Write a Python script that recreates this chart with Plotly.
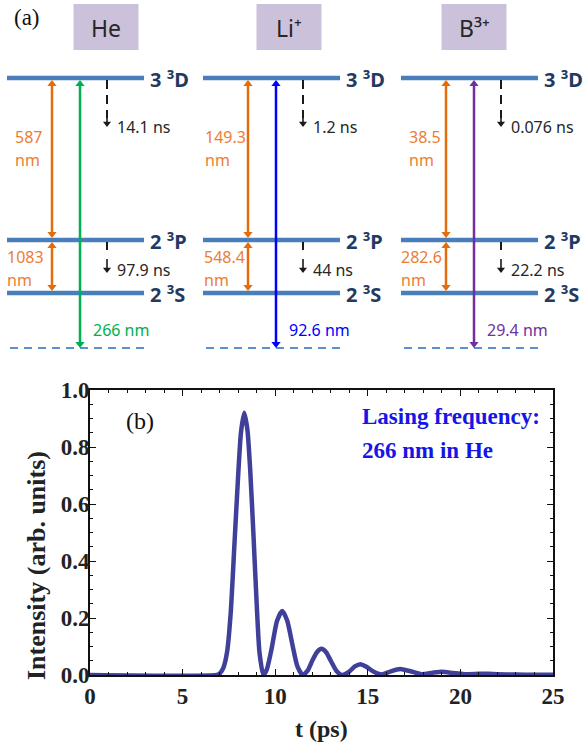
import plotly.graph_objects as go

# ---------------- panel (a) data ----------------
species = ["He", "Li\u207a", "B\u00b3\u207a"]
level_names = ["3 \u00b3D", "2 \u00b3P", "2 \u00b3S"]
wl_DP = ["587", "149.3", "38.5"]          # 3D <-> 2P wavelength (nm)
wl_PS = ["1083", "548.4", "282.6"]        # 2P <-> 2S wavelength (nm)
wl_lasing = ["266 nm", "92.6 nm", "29.4 nm"]
tau_D = ["14.1 ns", "1.2 ns", "0.076 ns"]
tau_P = ["97.9 ns", "44 ns", "22.2 ns"]
lasing_colors = ["#00b050", "#0000ff", "#7030a0"]

# ---------------- panel (b) data ----------------
t_ps = [0, 6.84, 7.0, 7.2, 7.4, 7.6, 7.8, 8.0, 8.15, 8.33, 8.5, 8.65, 8.82, 9.0,
        9.15, 9.36, 9.55, 9.8, 10.1, 10.38, 10.65, 10.95, 11.2, 11.48,
        11.75, 12.0, 12.25, 12.5, 12.75, 13.0, 13.3, 13.6,
        14.0, 14.3, 14.6, 14.9, 15.3, 15.75,
        16.2, 16.75, 17.3, 17.9, 18.5, 19.0, 19.6, 20.2, 21.0, 21.5, 22.5, 23.5, 25]
intensity = [0, 0.0, 0.005, 0.025, 0.08, 0.22, 0.46, 0.70, 0.85, 0.92, 0.86,
             0.72, 0.50, 0.25, 0.08, 0.0, 0.02, 0.09, 0.19, 0.225, 0.19, 0.10,
             0.03, 0.0,
             0.015, 0.05, 0.08, 0.092, 0.08, 0.05, 0.015, 0.0,
             0.012, 0.03, 0.038, 0.03, 0.012, 0.002,
             0.012, 0.021, 0.013, 0.003, 0.008, 0.011, 0.007, 0.003, 0.004,
             0.004, 0.002, 0.001, 0.001]
x_ticks = [0, 5, 10, 15, 20, 25]
y_ticks = [0.0, 0.2, 0.4, 0.6, 0.8, 1.0]
x_range = [0, 25]
y_range = [0, 1]

# ---------------- layout constants (pixels) ----------------
W, H = 583, 746
panel_x0 = [7, 203, 401]
level_len = 137
level_y = [78, 240, 293]
base_y = 348
box_cx = [106, 289, 474]
box_w, box_top, box_bot = 65, 4, 50
dx_orange, dx_lasing, dx_decay = 45, 73, 100
dp_label_x = [13, 203, 407]
ps_label_x = [5, 202, 399]

LEVEL_COLOR = "#4a7ebb"
LABEL_COLOR = "#1f3b63"
ORANGE = "#e46c0a"
ORANGE_TXT = "#ed7d31"
SANS = "Noto Sans"
SERIF = "Liberation Serif"

fig = go.Figure()
ann = []
shapes = []


def add_line(xs, ys, color, width, dash="solid"):
    fig.add_trace(go.Scatter(x=xs, y=ys, mode="lines", xaxis="x2", yaxis="y2",
                             line=dict(color=color, width=width, dash=dash),
                             hoverinfo="skip", showlegend=False))


def add_heads(x, tips, symbols, color, size):
    ys = []
    for tip, sym in zip(tips, symbols):
        ys.append(tip + size / 2 if sym == "triangle-up" else tip - size / 2)
    fig.add_trace(go.Scatter(x=[x] * len(tips), y=ys, mode="markers",
                             xaxis="x2", yaxis="y2",
                             marker=dict(symbol=symbols, size=size, color=color,
                                         line=dict(width=0)),
                             hoverinfo="skip", showlegend=False))


def double_arrow(x, y_top, y_bot, color, width, size):
    add_line([x, x], [y_top + size / 2, y_bot - size / 2], color, width)
    add_heads(x, [y_top, y_bot], ["triangle-up", "triangle-down"], color, size)


# ---------------- panel (b) curve ----------------
fig.add_trace(go.Scatter(x=t_ps, y=intensity, mode="lines", xaxis="x", yaxis="y",
                         line=dict(color="#40409a", width=4.5, shape="spline", smoothing=0.6),
                         hoverinfo="skip", showlegend=False))

# ---------------- panel (a) ----------------
for i in range(3):
    x0 = panel_x0[i]
    xs, ys = [], []
    for y in level_y:
        xs += [x0, x0 + level_len, None]
        ys += [y, y, None]
    add_line(xs, ys, LEVEL_COLOR, 4.5)
    add_line([x0 + 3, x0 + level_len + 3], [base_y, base_y], "#5b8fd0", 2, "8px,6px")
    for name, y in zip(level_names, level_y):
        ann.append(dict(x=x0 + level_len + 4, y=y + 1, xref="x2", yref="y2",
                        text=name, showarrow=False,
                        xanchor="left", yanchor="middle",
                        font=dict(family=SANS, size=20, color=LABEL_COLOR, weight="bold")))
    shapes.append(dict(type="rect", xref="x2", yref="y2",
                       x0=box_cx[i] - box_w / 2, x1=box_cx[i] + box_w / 2,
                       y0=box_top, y1=box_bot, fillcolor="#ccc1da",
                       line=dict(width=0), layer="below"))
    ann.append(dict(x=box_cx[i], y=(box_top + box_bot) / 2 + 1, xref="x2", yref="y2",
                    text=species[i], showarrow=False, xanchor="center", yanchor="middle",
                    font=dict(family=SANS, size=23, color="#262626")))
    # orange transitions
    ox = x0 + dx_orange
    double_arrow(ox, level_y[0] + 2, level_y[1] - 2, ORANGE, 2.5, 8)
    double_arrow(ox, level_y[1] + 2, level_y[2] - 2, ORANGE, 2.5, 8)
    for txt, xx, yy in [(wl_DP[i], dp_label_x[i], 137), ("nm", dp_label_x[i], 160),
                        (wl_PS[i], ps_label_x[i], 257), ("nm", ps_label_x[i], 280)]:
        ann.append(dict(x=xx, y=yy, xref="x2", yref="y2", text=txt,
                        showarrow=False, xanchor="left", yanchor="middle",
                        font=dict(family=SANS, size=16, color=ORANGE_TXT)))
    # lasing transition
    lx = x0 + dx_lasing
    double_arrow(lx, level_y[0] + 2, base_y, lasing_colors[i], 2.5, 8)
    ann.append(dict(x=lx + 11, y=330, xref="x2", yref="y2", text=wl_lasing[i],
                    showarrow=False, xanchor="left", yanchor="middle",
                    font=dict(family=SANS, size=16, color=lasing_colors[i])))
    # decays (dashed)
    kx = x0 + dx_decay
    add_line([kx, kx], [level_y[0] + 2, 118], "#1a1a1a", 2, "9px,6px")
    add_line([kx, kx], [level_y[1] + 2, 250], "#1a1a1a", 2)
    add_line([kx, kx], [259, 268], "#1a1a1a", 1.6)
    add_line([kx, kx], [117, 122], "#1a1a1a", 1.6)
    add_heads(kx, [127, 273], ["triangle-down", "triangle-down"], "#1a1a1a", 7)
    ann.append(dict(x=kx + 8, y=127, xref="x2", yref="y2", text=tau_D[i],
                    showarrow=False, xanchor="left", yanchor="middle",
                    font=dict(family=SANS, size=16, color="#262626")))
    ann.append(dict(x=kx + 8, y=270, xref="x2", yref="y2", text=tau_P[i],
                    showarrow=False, xanchor="left", yanchor="middle",
                    font=dict(family=SANS, size=16, color="#262626")))

ann.append(dict(x=27, y=17, xref="x2", yref="y2", text="(a)", showarrow=False,
                xanchor="center", yanchor="middle",
                font=dict(family=SERIF, size=23, color="#111")))

# ---------------- panel (b) texts ----------------
ann.append(dict(x=2.7, y=0.89, xref="x", yref="y", text="(b)", showarrow=False,
                xanchor="center", yanchor="middle",
                font=dict(family=SERIF, size=24, color="#111")))
ann.append(dict(x=14.58, y=0.906, xref="x", yref="y", text="Lasing frequency:",
                showarrow=False, xanchor="left", yanchor="middle",
                font=dict(family=SERIF, size=23, color="#1515e6", weight="bold")))
ann.append(dict(x=14.58, y=0.786, xref="x", yref="y", text="266 nm in He",
                showarrow=False, xanchor="left", yanchor="middle",
                font=dict(family=SERIF, size=23, color="#1515e6", weight="bold")))
ann.append(dict(x=36 / W, y=(H - 566) / H, xref="paper", yref="paper",
                text="Intensity (arb. units)", textangle=-90, showarrow=False,
                xanchor="center", yanchor="middle",
                font=dict(family=SERIF, size=26, color="#222", weight="bold")))
ann.append(dict(x=321 / W, y=(H - 729) / H, xref="paper", yref="paper",
                text="t (ps)", showarrow=False, xanchor="center", yanchor="middle",
                font=dict(family=SERIF, size=24, color="#222", weight="bold")))

tickfont = dict(family=SERIF, size=23, color="#222", weight="bold")
fig.update_layout(
    template="none",
    width=W, height=H, autosize=False,
    margin=dict(l=0, r=0, t=0, b=0, pad=0),
    paper_bgcolor="white", plot_bgcolor="rgba(0,0,0,0)",
    showlegend=False, hovermode=False,
    xaxis=dict(domain=[90 / W, 553 / W], range=x_range, anchor="y", automargin=False,
               tickmode="array", tickvals=x_ticks,
               ticktext=["<b>%d</b>" % v for v in x_ticks],
               ticks="inside", ticklen=6, tickwidth=1.3, tickcolor="#111",
               showline=True, linecolor="#111", linewidth=1.6, mirror="ticks",
               showgrid=False, zeroline=False, tickfont=tickfont,
               minor=dict(ticks="inside", tickmode="linear", tick0=0, dtick=1,
                          ticklen=3, tickwidth=1, tickcolor="#111")),
    yaxis=dict(domain=[(H - 675) / H, (H - 390) / H], range=y_range, anchor="x",
               automargin=False,
               tickmode="array", tickvals=y_ticks,
               ticktext=["<b>%.1f</b>" % v for v in y_ticks],
               ticklabelstandoff=-6,
               ticks="inside", ticklen=6, tickwidth=1.3, tickcolor="#111",
               showline=True, linecolor="#111", linewidth=1.6, mirror="ticks",
               showgrid=False, zeroline=False, tickfont=tickfont,
               minor=dict(ticks="inside", tickmode="linear", tick0=0, dtick=0.05,
                          ticklen=3, tickwidth=1, tickcolor="#111")),
    xaxis2=dict(domain=[0, 1], range=[0, W], anchor="y2", visible=False, fixedrange=True,
                automargin=False),
    yaxis2=dict(domain=[0, 1], range=[H, 0], anchor="x2", visible=False, fixedrange=True,
                automargin=False),
    annotations=ann,
    shapes=shapes,
)

fig.write_html("out.html", config={"displayModeBar": False},
               post_script="document.body.style.margin='0';")
